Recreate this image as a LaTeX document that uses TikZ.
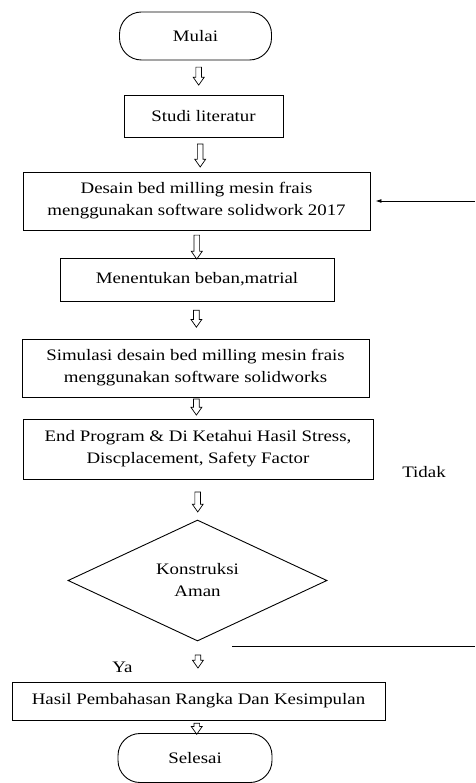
\documentclass[tikz,border=0pt]{standalone}
\usepackage{fontspec}
\setmainfont{Liberation Serif}[FakeStretch=1.18]
\usepackage{tikz}
\usetikzlibrary{shapes,arrows.meta,positioning,calc}

\begin{document}
\begin{tikzpicture}[x=1pt, y=-1pt,
    font=\fontsize{16}{22}\selectfont,
    proses/.style={rectangle, draw, line width=0.9pt, minimum height=42pt, inner sep=0pt, align=center},
    terminal/.style={rectangle, draw, line width=0.9pt, rounded corners=22pt, minimum width=152pt, minimum height=48pt, inner sep=0pt},
    keputusan/.style={diamond, draw, line width=0.9pt, minimum width=259pt, minimum height=121pt, inner sep=0pt, align=center},
    panah/.style={single arrow, draw, line width=0.7pt, shape border rotate=270, inner sep=2.5pt, single arrow head extend=2.6pt, single arrow tip angle=70, single arrow head indent=0pt, minimum height=#1},
    panah/.default=20pt
]
    \useasboundingbox (0,0) rectangle (475,783);

    % Langkah
    \node[terminal] (mulai) at (195.5,36) {Mulai};
    \node[proses, minimum width=159pt] (studi) at (203.5,116) {Studi literatur};
    \node[proses, minimum width=347pt, minimum height=58pt] (desain) at (196.5,201) {Desain bed milling mesin frais\\menggunakan software solidwork 2017};
    \node[proses, minimum width=274pt, minimum height=43pt] (beban) at (197,279.5) {Menentukan beban,matrial};
    \node[proses, minimum width=347pt, minimum height=58pt] (simulasi) at (195.5,368) {Simulasi desain bed milling mesin frais\\menggunakan software solidworks};
    \node[proses, minimum width=350pt, minimum height=60pt] (hasilsim) at (198,449) {End Program \& Di Ketahui Hasil Stress,\\Discplacement, Safety Factor};
    \node[keputusan] (aman) at (197.5,580.5) {Konstruksi\\Aman};
    \node[proses, minimum width=373pt, minimum height=38pt] (bahas) at (198.5,701) {Hasil Pembahasan Rangka Dan Kesimpulan};
    \node[terminal, minimum width=154pt, minimum height=49pt] (selesai) at (195,758) {Selesai};

    % Label
    \node (tidak) at (424,472) {Tidak};
    \node (ya) at (122.5,667) {Ya};

    % Panah
    \node[panah=18pt] (p1) at ($(mulai.south)!0.4!(studi.north)$) {};
    \node[panah=23pt] (p2) at ($(studi.south)!0.47!(desain.north)$) {};
    \node[panah=24pt] (p3) at ($(desain.south)!0.54!(beban.north)$) {};
    \node[panah=17pt] (p4) at ($(beban.south)!0.41!(simulasi.north)$) {};
    \node[panah=16pt] (p5) at ($(simulasi.south)!0.36!(hasilsim.north)$) {};
    \node[panah=20pt] (p6) at ($(hasilsim.south)!0.51!(aman.north)$) {};
    \node[panah=13pt] (p7) at ($(aman.south)!0.45!(bahas.north)$) {};
    \node[panah=11pt] (p8) at ($(bahas.south)!0.5!(selesai.north)$) {};

    % Umpan balik
    \coordinate (kembali) at (475,201);
    \coordinate (tidak1) at (232,646);
    \coordinate (tidak2) at (475,646);
    \draw[line width=0.9pt, -{Latex[length=6pt,width=4pt]}, shorten >=5pt] (kembali) -- (desain.east);
    \draw[line width=0.9pt] (tidak1) -- (tidak2);
\end{tikzpicture}
\end{document}
